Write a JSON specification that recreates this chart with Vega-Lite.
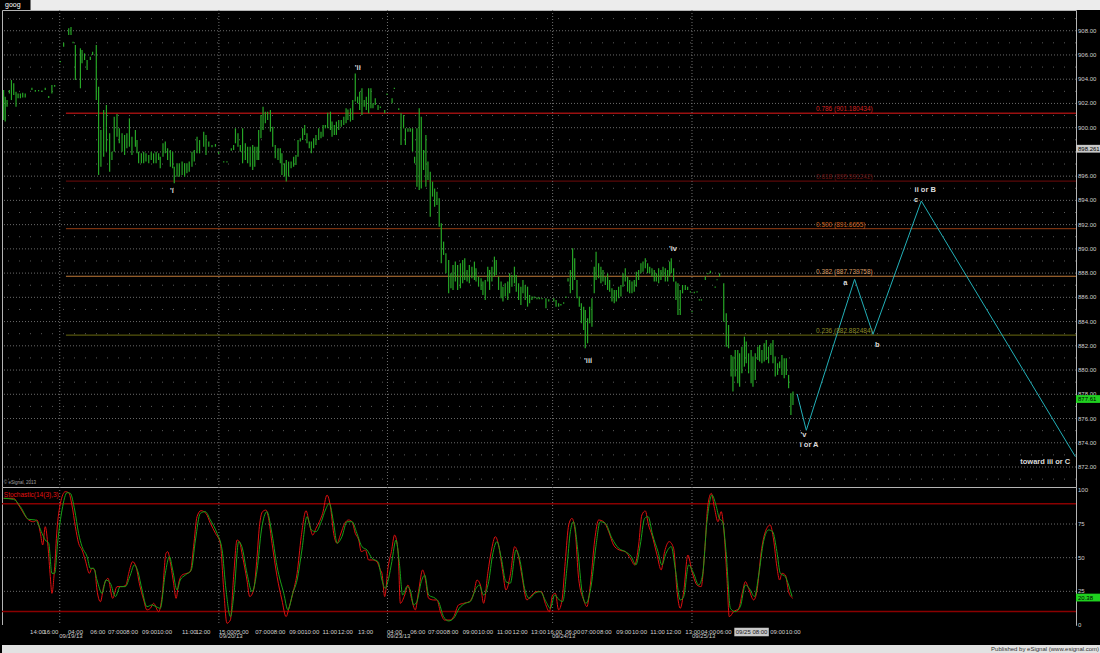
{
  "$schema": "https://vega.github.io/schema/vega-lite/v6.json",
  "background": "#000000",
  "padding": 0,
  "spacing": 0,
  "bounds": "flush",
  "config": {"view": {"stroke": null}, "text": {"font": "Liberation Sans"}, "concat": {"spacing": 0}},
  "resolve": {"scale": {"x": "independent", "y": "independent"}},
  "datasets": {
    "tab": [{"a": 0, "b": 12.4, "name": "goog"}],
    "pub": [{"t": 477, "s": "Published by eSignal (www.esignal.com)"}],
    "days": [{"t": 25.1}, {"t": 94.3}, {"t": 167.6}, {"t": 239.4}, {"t": 300.0}],
    "ygrid": [{"p":872},{"p":874},{"p":876},{"p":878},{"p":880},{"p":882},{"p":884},{"p":886},{"p":888},{"p":890},{"p":892},{"p":894},{"p":896},{"p":898},{"p":900},{"p":902},{"p":904},{"p":906},{"p":908}],
    "ylab": [{"p":872,"s":"872.00"},{"p":874,"s":"874.00"},{"p":876,"s":"876.00"},{"p":878,"s":"878.00"},{"p":880,"s":"880.00"},{"p":882,"s":"882.00"},{"p":884,"s":"884.00"},{"p":886,"s":"886.00"},{"p":888,"s":"888.00"},{"p":890,"s":"890.00"},{"p":892,"s":"892.00"},{"p":894,"s":"894.00"},{"p":896,"s":"896.00"},{"p":900,"s":"900.00"},{"p":902,"s":"902.00"},{"p":904,"s":"904.00"},{"p":906,"s":"906.00"},{"p":908,"s":"908.00"}],
    "odd": [{"p":871},{"p":873},{"p":875},{"p":877},{"p":879},{"p":881},{"p":883},{"p":885},{"p":887},{"p":889},{"p":891},{"p":893},{"p":895},{"p":897},{"p":899},{"p":901},{"p":903},{"p":905},{"p":907},{"p":909}],
    "slab": [{"v": 0, "s": "0"}, {"v": 25, "s": "25"}, {"v": 50, "s": "50"}, {"v": 75, "s": "75"}, {"v": 100, "s": "100"}],
    "sgrid": [{"v": 25}, {"v": 50}, {"v": 75}],
    "fib": [
      {"lvl": "0.786", "p": 901.180434, "label": "0.786 (901.180434)", "t0": 27.8, "t1": 466.96, "tl": 353.9},
      {"lvl": "0.618", "p": 895.591242, "label": "0.618 (895.591242)", "t0": 27.8, "t1": 466.96, "tl": 353.9},
      {"lvl": "0.500", "p": 891.6655, "label": "0.500 (891.6655)", "t0": 27.8, "t1": 466.96, "tl": 353.9},
      {"lvl": "0.382", "p": 887.739758, "label": "0.382 (887.739758)", "t0": 27.8, "t1": 466.96, "tl": 353.9},
      {"lvl": "0.236", "p": 882.882484, "label": "0.236 (882.882484)", "t0": 27.8, "t1": 466.96, "tl": 353.9}
    ],
    "proj": [
      {"t": 345.7, "p": 878.03}, {"t": 349.7, "p": 875.03}, {"t": 370.7, "p": 887.49},
      {"t": 378.7, "p": 882.95}, {"t": 399.7, "p": 893.95}, {"t": 466.7, "p": 872.85}
    ],
    "waves": [
      {"label": "'i", "t": 73.9, "p": 894.78},
      {"label": "'ii", "t": 154.7, "p": 904.95},
      {"label": "'iii", "t": 254.8, "p": 880.77},
      {"label": "'iv", "t": 291.7, "p": 889.96},
      {"label": "'v", "t": 348.5, "p": 874.68},
      {"label": "i or A", "t": 350.9, "p": 873.82},
      {"label": "a", "t": 366.7, "p": 887.16},
      {"label": "b", "t": 380.6, "p": 882.07},
      {"label": "c", "t": 397.4, "p": 894.03},
      {"label": "ii or B", "t": 401.4, "p": 894.86},
      {"label": "toward iii or C", "t": 453.6, "p": 872.44}
    ],
    "boxes": [
      {"p": 898.261, "label": "898.261", "kind": "cursor"},
      {"p": 877.61, "label": "877.61", "kind": "last"}
    ],
    "copy": [{"t": 0.8, "p": 870.68, "label": "© eSignal, 2013"}],
    "bars": [
      {"t":0.7,"l":900.63,"h":903.11},{"t":1.4,"l":900.50,"h":902.56},{"t":2.2,"l":901.73,"h":902.28},{"t":3.2,"l":902.83,"h":903.11},
      {"t":4.1,"l":902.28,"h":903.93},{"t":5.1,"l":902.70,"h":903.66},{"t":6.1,"l":901.73,"h":902.97},{"t":7.0,"l":902.42,"h":902.83},
      {"t":8.0,"l":902.42,"h":902.83},{"t":9.0,"l":902.50,"h":902.89},{"t":10.1,"l":902.50,"h":902.83},{"t":13.0,"l":903.11,"h":903.30},
      {"t":14.5,"l":902.97,"h":903.11},{"t":15.9,"l":903.0,"h":903.11},{"t":17.4,"l":902.95,"h":903.06},{"t":18.8,"l":903.11,"h":903.30},
      {"t":20.3,"l":902.45,"h":902.62},{"t":21.7,"l":902.83,"h":903.52},{"t":22.9,"l":903.38,"h":903.52},
      {"t":25.4,"l":905.4,"h":905.5},{"t":26.8,"l":906.68,"h":907.01},{"t":29.0,"l":907.65,"h":908.2},{"t":30.0,"l":907.65,"h":908.3},
      {"t":30.9,"l":906.96,"h":907.10},{"t":31.9,"l":903.93,"h":906.82},{"t":34.1,"l":903.25,"h":906.55},{"t":34.8,"l":905.31,"h":906.41},
      {"t":35.9,"l":905.58,"h":906.13},{"t":37.0,"l":904.76,"h":905.58},{"t":38.4,"l":905.58,"h":905.86},{"t":39.4,"l":906.00,"h":906.27},
      {"t":41.0,"l":902.28,"h":906.82},{"t":42.0,"l":896.10,"h":903.38},{"t":43.0,"l":896.78,"h":899.81},{"t":44.2,"l":897.61,"h":901.46},
      {"t":45.4,"l":898.02,"h":901.87},{"t":46.8,"l":896.37,"h":899.53},{"t":47.8,"l":897.33,"h":898.02},{"t":48.8,"l":898.02,"h":900.91},
      {"t":50.0,"l":899.26,"h":901.13},{"t":51.0,"l":898.71,"h":899.95},{"t":52.2,"l":898.02,"h":899.53},{"t":53.3,"l":897.75,"h":899.40},
      {"t":54.3,"l":898.30,"h":899.53},{"t":55.4,"l":898.43,"h":900.77},{"t":56.5,"l":897.75,"h":899.26},{"t":58.0,"l":898.43,"h":899.81},
      {"t":58.7,"l":897.88,"h":898.98},{"t":59.4,"l":897.06,"h":898.02},{"t":60.6,"l":897.06,"h":897.88},{"t":61.6,"l":897.06,"h":898.02},
      {"t":62.6,"l":897.20,"h":897.88},{"t":63.8,"l":897.06,"h":897.75},{"t":64.9,"l":897.33,"h":898.02},{"t":65.9,"l":897.06,"h":897.88},
      {"t":67.0,"l":897.06,"h":898.02},{"t":68.1,"l":897.33,"h":897.88},{"t":68.8,"l":896.65,"h":897.61},{"t":70.0,"l":897.61,"h":898.71},
      {"t":71.0,"l":897.88,"h":898.85},{"t":72.0,"l":897.33,"h":898.30},{"t":73.2,"l":896.78,"h":898.16},{"t":74.2,"l":896.65,"h":898.02},
      {"t":74.9,"l":895.41,"h":896.78},{"t":76.1,"l":895.96,"h":897.06},{"t":77.1,"l":895.96,"h":897.06},{"t":78.3,"l":896.10,"h":897.20},
      {"t":79.4,"l":895.96,"h":897.06},{"t":80.4,"l":896.23,"h":897.06},{"t":81.4,"l":896.37,"h":897.20},{"t":82.6,"l":896.78,"h":898.02},
      {"t":83.6,"l":897.20,"h":898.16},{"t":84.8,"l":897.88,"h":899.26},{"t":85.9,"l":897.88,"h":898.98},
      {"t":87.7,"l":898.43,"h":899.67},{"t":88.7,"l":897.75,"h":899.40},{"t":89.9,"l":898.43,"h":898.85},{"t":91.3,"l":898.38,"h":898.57},
      {"t":92.8,"l":898.43,"h":898.65},{"t":94.2,"l":897.83,"h":898.02},{"t":96.4,"l":897.12,"h":897.22},{"t":97.8,"l":897.12,"h":897.22},
      {"t":99.7,"l":898.10,"h":898.30},{"t":100.7,"l":898.16,"h":898.57},{"t":101.5,"l":898.71,"h":899.95},{"t":102.6,"l":898.43,"h":899.53},
      {"t":103.6,"l":898.02,"h":898.57},{"t":104.6,"l":897.06,"h":899.95},{"t":105.8,"l":897.33,"h":898.71},{"t":106.8,"l":897.06,"h":898.43},
      {"t":107.9,"l":896.78,"h":898.43},{"t":109.0,"l":896.51,"h":898.57},{"t":109.9,"l":896.78,"h":898.43},{"t":110.9,"l":897.33,"h":898.43},
      {"t":111.6,"l":897.33,"h":899.81},{"t":112.6,"l":899.12,"h":901.05},{"t":113.5,"l":899.81,"h":901.73},{"t":114.5,"l":900.36,"h":901.32},
      {"t":115.5,"l":900.63,"h":901.32},{"t":116.7,"l":899.67,"h":901.46},{"t":117.7,"l":898.43,"h":900.08},{"t":118.8,"l":897.47,"h":898.57},
      {"t":120.0,"l":897.33,"h":898.30},{"t":121.0,"l":897.06,"h":898.30},{"t":121.7,"l":896.10,"h":897.88},{"t":122.8,"l":895.96,"h":897.06},
      {"t":123.6,"l":895.55,"h":897.33},{"t":124.6,"l":895.96,"h":897.20},{"t":125.7,"l":896.65,"h":897.20},{"t":126.8,"l":896.78,"h":897.61},
      {"t":127.8,"l":896.92,"h":897.75},{"t":128.7,"l":897.61,"h":898.98},{"t":129.7,"l":898.85,"h":899.12},{"t":130.7,"l":898.98,"h":899.95},
      {"t":131.6,"l":899.40,"h":900.22},{"t":132.6,"l":898.71,"h":899.53},{"t":133.6,"l":898.30,"h":898.85},{"t":134.5,"l":897.88,"h":898.85},
      {"t":135.5,"l":898.30,"h":899.12},{"t":136.5,"l":898.57,"h":899.40},{"t":137.7,"l":898.98,"h":899.95},{"t":138.7,"l":899.12,"h":899.67},
      {"t":139.6,"l":899.26,"h":900.22},{"t":140.6,"l":899.95,"h":900.22},{"t":141.6,"l":899.95,"h":901.24},{"t":142.8,"l":899.81,"h":901.32},
      {"t":143.5,"l":899.26,"h":900.50},{"t":144.5,"l":899.40,"h":900.22},{"t":145.4,"l":899.40,"h":900.50},{"t":146.4,"l":899.81,"h":900.63},
      {"t":147.5,"l":900.08,"h":900.63},{"t":148.6,"l":900.22,"h":900.91},{"t":149.6,"l":900.36,"h":901.60},{"t":150.4,"l":900.63,"h":901.51},
      {"t":151.5,"l":900.50,"h":901.60},{"t":152.5,"l":900.63,"h":902.28},{"t":153.6,"l":902.15,"h":904.48},{"t":154.6,"l":902.01,"h":902.56},
      {"t":155.5,"l":901.46,"h":902.97},{"t":156.5,"l":901.05,"h":903.25},{"t":157.5,"l":901.73,"h":902.28},{"t":158.4,"l":901.46,"h":902.56},
      {"t":159.4,"l":901.19,"h":903.25},{"t":160.4,"l":901.60,"h":903.25},{"t":161.3,"l":901.60,"h":902.01},{"t":162.3,"l":901.87,"h":902.42},
      {"t":163.5,"l":901.46,"h":901.87},{"t":164.5,"l":901.62,"h":901.75},{"t":166.4,"l":901.19,"h":901.46},{"t":167.4,"l":902.70,"h":902.83},
      {"t":169.6,"l":902.01,"h":902.42},{"t":170.6,"l":903.19,"h":903.30},{"t":172.5,"l":901.46,"h":901.60},{"t":173.5,"l":898.57,"h":901.19},
      {"t":174.6,"l":899.95,"h":901.05},{"t":175.4,"l":898.57,"h":899.95},{"t":176.5,"l":899.67,"h":899.95},{"t":177.5,"l":899.67,"h":899.95},
      {"t":178.5,"l":898.02,"h":899.95},{"t":179.4,"l":897.06,"h":897.61},{"t":180.4,"l":895.13,"h":899.95},{"t":181.4,"l":894.86,"h":901.60},
      {"t":182.3,"l":894.99,"h":900.91},{"t":183.3,"l":896.51,"h":898.16},{"t":184.3,"l":895.13,"h":899.40},{"t":185.2,"l":895.68,"h":897.20},
      {"t":186.2,"l":892.66,"h":896.37},{"t":187.2,"l":894.31,"h":895.55},{"t":188.1,"l":893.48,"h":894.99},{"t":189.1,"l":893.62,"h":894.72},
      {"t":190.1,"l":891.83,"h":894.17},{"t":191.0,"l":888.81,"h":892.11},{"t":192.0,"l":889.50,"h":890.60},{"t":193.0,"l":887.98,"h":889.63},
      {"t":194.2,"l":886.33,"h":889.08},{"t":195.2,"l":886.75,"h":887.98},{"t":196.1,"l":886.61,"h":888.67},{"t":197.1,"l":887.30,"h":888.95},
      {"t":198.1,"l":886.61,"h":888.67},{"t":199.3,"l":886.75,"h":888.81},{"t":200.3,"l":887.16,"h":889.08},{"t":201.2,"l":887.43,"h":889.22},
      {"t":202.2,"l":887.30,"h":888.26},{"t":203.2,"l":887.16,"h":888.67},{"t":204.3,"l":887.57,"h":888.53},{"t":205.4,"l":887.43,"h":888.95},
      {"t":206.1,"l":887.30,"h":888.40},{"t":207.2,"l":886.88,"h":887.71},{"t":208.3,"l":886.61,"h":887.57},{"t":209.1,"l":886.20,"h":887.30},
      {"t":210.1,"l":885.78,"h":887.43},{"t":211.2,"l":887.30,"h":888.53},{"t":212.0,"l":886.61,"h":888.26},{"t":213.0,"l":887.30,"h":888.53},
      {"t":214.1,"l":887.71,"h":889.36},{"t":214.9,"l":887.85,"h":889.08},{"t":215.9,"l":886.61,"h":887.71},{"t":217.0,"l":885.92,"h":887.30},
      {"t":217.8,"l":885.65,"h":886.88},{"t":218.8,"l":886.06,"h":887.16},{"t":219.9,"l":885.78,"h":887.30},{"t":220.7,"l":886.33,"h":887.98},
      {"t":221.7,"l":886.88,"h":887.85},{"t":222.8,"l":887.16,"h":888.53},{"t":223.6,"l":886.47,"h":887.85},{"t":224.6,"l":885.78,"h":887.16},
      {"t":225.6,"l":885.37,"h":886.88},{"t":226.5,"l":886.33,"h":887.43},{"t":227.5,"l":885.78,"h":887.02},{"t":228.5,"l":885.23,"h":886.88},
      {"t":229.4,"l":885.51,"h":886.20},{"t":230.4,"l":885.78,"h":886.06},{"t":231.4,"l":885.92,"h":886.06},{"t":232.6,"l":885.84,"h":886.0},
      {"t":233.6,"l":885.84,"h":886.0},{"t":234.8,"l":885.84,"h":885.95},{"t":236.5,"l":885.10,"h":885.92},{"t":237.7,"l":885.65,"h":885.84},
      {"t":239.9,"l":885.65,"h":885.92},{"t":240.9,"l":885.23,"h":885.78},{"t":242.0,"l":885.23,"h":885.51},{"t":243.0,"l":885.33,"h":885.45},
      {"t":244.2,"l":885.48,"h":885.60},{"t":245.2,"l":885.95,"h":886.06},{"t":246.1,"l":887.30,"h":887.57},{"t":247.1,"l":886.33,"h":888.26},
      {"t":248.1,"l":886.61,"h":890.05},{"t":249.0,"l":887.43,"h":889.22},{"t":250.0,"l":885.92,"h":887.43},{"t":251.0,"l":885.23,"h":886.06},
      {"t":251.9,"l":883.86,"h":885.51},{"t":252.9,"l":883.31,"h":885.23},{"t":253.6,"l":881.80,"h":884.96},{"t":254.6,"l":882.21,"h":884.27},
      {"t":255.5,"l":883.86,"h":885.23},{"t":256.5,"l":883.58,"h":885.92},{"t":257.5,"l":886.33,"h":888.53},{"t":258.3,"l":887.43,"h":889.77},
      {"t":259.4,"l":887.57,"h":888.81},{"t":260.4,"l":887.16,"h":888.53},{"t":261.3,"l":887.30,"h":888.26},{"t":262.3,"l":887.02,"h":887.71},
      {"t":263.3,"l":886.61,"h":887.98},{"t":264.2,"l":886.47,"h":887.43},{"t":265.2,"l":885.65,"h":886.75},{"t":266.2,"l":885.51,"h":886.61},
      {"t":267.1,"l":885.65,"h":886.61},{"t":268.1,"l":885.92,"h":886.88},{"t":269.1,"l":886.06,"h":887.02},{"t":270.0,"l":886.88,"h":887.98},
      {"t":271.0,"l":887.30,"h":888.40},{"t":272.0,"l":886.47,"h":887.71},{"t":272.9,"l":886.33,"h":887.43},{"t":273.9,"l":886.33,"h":887.30},
      {"t":274.9,"l":886.47,"h":887.43},{"t":275.8,"l":886.88,"h":888.12},{"t":276.8,"l":887.43,"h":888.26},{"t":277.8,"l":887.98,"h":888.81},
      {"t":278.7,"l":888.12,"h":888.95},{"t":279.7,"l":888.40,"h":889.22},{"t":280.7,"l":887.98,"h":888.81},{"t":281.6,"l":887.98,"h":888.53},
      {"t":282.6,"l":887.71,"h":888.40},{"t":283.6,"l":887.30,"h":888.26},{"t":284.5,"l":887.30,"h":887.98},{"t":285.5,"l":887.16,"h":888.40},
      {"t":286.5,"l":887.43,"h":888.26},{"t":287.4,"l":887.71,"h":888.53},{"t":288.4,"l":887.30,"h":888.40},{"t":289.4,"l":887.30,"h":888.26},
      {"t":290.3,"l":887.71,"h":888.95},{"t":291.0,"l":887.98,"h":889.22},{"t":292.0,"l":887.30,"h":888.40},{"t":293.0,"l":885.78,"h":887.30},
      {"t":293.9,"l":884.55,"h":887.16},{"t":294.9,"l":884.55,"h":886.61},{"t":295.9,"l":886.33,"h":887.02},{"t":297.1,"l":886.61,"h":887.02},
      {"t":298.1,"l":886.61,"h":886.88},{"t":299.3,"l":886.40,"h":886.50},{"t":300.0,"l":884.77,"h":884.88},{"t":301.0,"l":886.33,"h":886.47},
      {"t":302.2,"l":886.40,"h":886.50},{"t":303.2,"l":885.73,"h":885.84},{"t":304.1,"l":885.73,"h":885.84},{"t":305.8,"l":887.43,"h":887.71},
      {"t":306.9,"l":887.90,"h":888.0},{"t":308.0,"l":887.98,"h":888.2},{"t":310.1,"l":886.80,"h":886.90},{"t":310.9,"l":887.40,"h":887.50},
      {"t":312.0,"l":887.71,"h":887.98},
      {"t":313.8,"l":883.99,"h":887.16},{"t":314.9,"l":881.93,"h":884.68},{"t":315.9,"l":881.80,"h":883.72},{"t":317.0,"l":879.46,"h":881.25},
      {"t":317.8,"l":878.22,"h":881.11},{"t":318.8,"l":879.46,"h":881.66},{"t":319.9,"l":878.91,"h":881.66},{"t":320.7,"l":878.63,"h":881.38},
      {"t":321.7,"l":879.73,"h":881.93},{"t":322.8,"l":880.28,"h":882.76},{"t":323.6,"l":880.56,"h":882.35},{"t":324.6,"l":879.73,"h":881.38},
      {"t":325.7,"l":878.91,"h":881.66},{"t":326.5,"l":878.63,"h":881.11},{"t":327.5,"l":879.18,"h":881.38},{"t":328.6,"l":880.83,"h":881.93},
      {"t":329.4,"l":880.70,"h":882.07},{"t":330.4,"l":880.56,"h":881.66},{"t":331.4,"l":880.70,"h":882.21},{"t":332.3,"l":880.83,"h":882.48},
      {"t":333.3,"l":880.56,"h":881.93},{"t":334.3,"l":881.25,"h":882.21},{"t":335.2,"l":880.56,"h":882.48},{"t":336.2,"l":879.46,"h":881.11},
      {"t":337.2,"l":879.60,"h":880.56},{"t":338.1,"l":880.15,"h":880.70},{"t":339.1,"l":879.60,"h":881.25},{"t":340.1,"l":879.32,"h":880.97},
      {"t":341.0,"l":879.60,"h":880.97},{"t":342.0,"l":878.50,"h":879.60},{"t":343.0,"l":876.29,"h":878.08},{"t":343.9,"l":877.12,"h":878.22}
    ],
    "lv": [{"v": 10}, {"v": 90}],
    "stochLabel": [{"t": 0.8, "v": 96.5, "label": "Stochastic(14(3),3)"}],
    "sbox": [{"v": 20.38, "label": "20.38"}],
    "k": [
      {"t":0.7,"v":94.1},{"t":5.1,"v":94.1},{"t":7.2,"v":89.1},{"t":11.6,"v":78.0},{"t":13.8,"v":76.7},{"t":15.2,"v":78.0},
      {"t":16.7,"v":68.1},{"t":17.7,"v":59.4},{"t":18.8,"v":73.0},{"t":20.0,"v":58.2},{"t":21.0,"v":35.9},{"t":21.7,"v":23.5},
      {"t":22.9,"v":43.3},{"t":23.9,"v":70.6},{"t":25.4,"v":90.4},{"t":27.5,"v":99.0},{"t":29.0,"v":98.3},{"t":30.4,"v":89.1},
      {"t":31.9,"v":73.0},{"t":33.3,"v":60.7},{"t":34.8,"v":55.7},{"t":36.2,"v":48.3},{"t":38.0,"v":38.4},{"t":39.1,"v":42.1},
      {"t":40.3,"v":40.9},{"t":41.3,"v":26.0},{"t":42.8,"v":17.3},{"t":44.2,"v":28.5},{"t":46.1,"v":34.7},{"t":48.1,"v":19.8},
      {"t":50.0,"v":28.5},{"t":52.2,"v":28.5},{"t":53.9,"v":29.7},{"t":55.1,"v":38.4},{"t":56.8,"v":47.0},{"t":58.3,"v":43.3},
      {"t":59.7,"v":31.0},{"t":61.6,"v":18.6},{"t":63.0,"v":11.2},{"t":64.5,"v":12.4},{"t":65.9,"v":16.1},{"t":68.1,"v":9.9},
      {"t":69.6,"v":21.1},{"t":71.3,"v":53.2},{"t":72.0,"v":54.5},{"t":73.5,"v":43.3},{"t":74.6,"v":31.0},{"t":75.7,"v":19.8},
      {"t":76.8,"v":31.0},{"t":78.3,"v":37.1},{"t":80.4,"v":38.4},{"t":81.9,"v":39.6},{"t":83.3,"v":58.2},{"t":84.8,"v":80.5},
      {"t":86.5,"v":84.9},{"t":88.7,"v":82.9},{"t":90.6,"v":75.5},{"t":92.8,"v":68.1},{"t":94.9,"v":60.7},{"t":96.4,"v":26.0},
      {"t":97.8,"v":1.3},{"t":99.3,"v":3.7},{"t":100.7,"v":35.9},{"t":102.2,"v":63.1},{"t":103.2,"v":61.9},{"t":104.6,"v":50.8},
      {"t":106.5,"v":33.4},{"t":107.7,"v":21.1},{"t":109.4,"v":26.0},{"t":110.9,"v":50.8},{"t":111.9,"v":73.0},{"t":113.3,"v":84.2},
      {"t":114.8,"v":85.4},{"t":115.9,"v":79.2},{"t":117.4,"v":60.7},{"t":119.6,"v":35.9},{"t":121.7,"v":18.6},{"t":123.5,"v":6.2},
      {"t":124.9,"v":13.6},{"t":126.8,"v":26.0},{"t":128.3,"v":38.4},{"t":130.1,"v":65.6},{"t":132.2,"v":84.9},{"t":133.6,"v":75.5},
      {"t":135.1,"v":66.8},{"t":136.5,"v":71.8},{"t":138.0,"v":76.7},{"t":139.4,"v":82.9},{"t":141.3,"v":96.5},{"t":142.8,"v":87.9},
      {"t":144.2,"v":68.1},{"t":145.7,"v":60.7},{"t":147.1,"v":66.8},{"t":149.0,"v":75.5},{"t":150.7,"v":78.0},{"t":152.2,"v":76.7},
      {"t":153.6,"v":68.1},{"t":155.1,"v":63.1},{"t":156.2,"v":54.5},{"t":158.0,"v":55.7},{"t":159.4,"v":48.3},{"t":161.2,"v":48.3},
      {"t":163.0,"v":47.0},{"t":164.5,"v":40.9},
      {"t":165.2,"v":38.4},{"t":166.4,"v":21.1},{"t":167.8,"v":42.1},{"t":169.3,"v":54.5},{"t":170.7,"v":66.8},{"t":172.2,"v":54.5},
      {"t":173.2,"v":16.1},{"t":175.1,"v":22.3},{"t":176.5,"v":29.7},{"t":178.0,"v":19.8},{"t":179.7,"v":11.2},{"t":181.1,"v":24.8},
      {"t":182.9,"v":40.9},{"t":184.0,"v":34.7},{"t":185.5,"v":19.8},{"t":187.7,"v":18.6},{"t":189.1,"v":18.6},{"t":190.6,"v":9.9},
      {"t":192.4,"v":3.7},{"t":194.9,"v":3.7},{"t":196.4,"v":6.2},{"t":198.5,"v":14.9},{"t":200.7,"v":16.1},{"t":203.2,"v":17.4},
      {"t":205.1,"v":23.5},{"t":206.5,"v":33.4},{"t":208.0,"v":29.7},{"t":209.4,"v":16.1},{"t":211.3,"v":39.6},{"t":212.7,"v":54.5},
      {"t":214.5,"v":65.6},{"t":215.9,"v":59.4},{"t":217.7,"v":39.6},{"t":219.1,"v":26.0},{"t":221.0,"v":37.1},{"t":222.9,"v":58.2},
      {"t":224.6,"v":50.8},{"t":226.1,"v":35.9},{"t":228.2,"v":18.6},{"t":230.4,"v":22.3},{"t":232.2,"v":24.8},{"t":234.5,"v":24.8},
      {"t":236.2,"v":16.1},{"t":238.0,"v":9.9},{"t":239.4,"v":22.3},{"t":240.6,"v":23.5},{"t":242.0,"v":11.2},{"t":243.5,"v":18.6},
      {"t":244.9,"v":47.1},{"t":246.4,"v":74.3},{"t":247.8,"v":79.2},{"t":249.3,"v":68.1},{"t":250.7,"v":34.7},{"t":252.9,"v":18.6},
      {"t":254.3,"v":13.6},{"t":255.8,"v":29.7},{"t":257.7,"v":63.1},{"t":259.4,"v":78.0},{"t":261.6,"v":76.7},{"t":263.8,"v":69.3},
      {"t":265.9,"v":59.4},{"t":268.4,"v":55.7},{"t":271.0,"v":54.5},{"t":273.2,"v":49.5},{"t":275.1,"v":44.6},{"t":276.8,"v":59.4},
      {"t":278.2,"v":81.7},{"t":279.7,"v":84.7},{"t":281.1,"v":74.3},{"t":282.6,"v":66.8},{"t":284.8,"v":52.0},{"t":286.6,"v":40.9},
      {"t":288.1,"v":54.5},{"t":290.1,"v":61.9},{"t":292.0,"v":57.0},{"t":293.5,"v":24.8},{"t":294.9,"v":12.4},{"t":296.4,"v":24.8},
      {"t":298.2,"v":52.0},{"t":300.0,"v":39.6},{"t":302.2,"v":29.7},{"t":304.0,"v":28.5},{"t":305.5,"v":54.5},{"t":306.9,"v":89.1},
      {"t":308.4,"v":97.8},{"t":309.8,"v":86.6},{"t":311.3,"v":76.7},{"t":312.7,"v":84.2},{"t":313.8,"v":71.8},{"t":315.2,"v":34.7},
      {"t":316.2,"v":6.2},{"t":318.1,"v":9.9},{"t":320.3,"v":12.4},{"t":322.0,"v":24.8},{"t":323.2,"v":32.2},{"t":324.6,"v":27.2},
      {"t":326.8,"v":18.6},{"t":328.2,"v":24.8},{"t":330.1,"v":54.5},{"t":331.9,"v":69.3},{"t":334.0,"v":74.3},{"t":335.5,"v":63.1},
      {"t":336.9,"v":43.3},{"t":338.1,"v":33.4},{"t":339.1,"v":38.4},{"t":340.6,"v":37.1},{"t":342.0,"v":24.8},{"t":343.8,"v":19.8}
    ],
    "d": [
      {"t":0.7,"v":94.1},{"t":5.1,"v":93.3},{"t":8.0,"v":87.9},{"t":11.6,"v":78.5},{"t":14.5,"v":78.0},{"t":17.4,"v":68.1},
      {"t":18.8,"v":63.1},{"t":20.3,"v":60.7},{"t":21.7,"v":38.4},{"t":22.9,"v":38.4},{"t":24.3,"v":63.1},{"t":26.1,"v":85.4},
      {"t":28.3,"v":98.3},{"t":29.7,"v":97.8},{"t":31.6,"v":85.4},{"t":33.3,"v":68.1},{"t":34.8,"v":58.2},{"t":37.0,"v":50.8},
      {"t":38.4,"v":42.1},{"t":39.9,"v":42.1},{"t":41.3,"v":33.4},{"t":43.5,"v":23.5},{"t":45.2,"v":33.4},{"t":47.1,"v":31.0},
      {"t":49.3,"v":21.1},{"t":51.4,"v":28.5},{"t":53.6,"v":28.5},{"t":55.8,"v":37.1},{"t":57.5,"v":44.6},{"t":59.1,"v":39.6},
      {"t":60.9,"v":26.0},{"t":63.0,"v":13.6},{"t":65.2,"v":14.9},{"t":67.0,"v":13.6},{"t":68.8,"v":12.4},{"t":71.0,"v":38.4},
      {"t":72.8,"v":50.8},{"t":74.2,"v":40.9},{"t":76.1,"v":26.0},{"t":77.5,"v":33.4},{"t":79.7,"v":37.1},{"t":82.3,"v":40.9},
      {"t":84.1,"v":63.1},{"t":86.2,"v":82.9},{"t":88.4,"v":84.2},{"t":90.6,"v":78.0},{"t":93.5,"v":68.1},{"t":95.7,"v":55.7},
      {"t":97.4,"v":26.0},{"t":99.3,"v":6.2},{"t":101.0,"v":26.0},{"t":102.9,"v":61.9},{"t":104.3,"v":58.2},{"t":106.5,"v":38.4},
      {"t":108.7,"v":24.8},{"t":110.9,"v":40.9},{"t":112.8,"v":70.6},{"t":115.2,"v":84.2},{"t":117.1,"v":70.6},{"t":119.6,"v":43.3},
      {"t":122.5,"v":23.5},{"t":124.3,"v":11.2},{"t":126.4,"v":23.5},{"t":128.3,"v":33.4},{"t":130.4,"v":55.7},{"t":132.6,"v":80.5},
      {"t":134.5,"v":70.6},{"t":136.5,"v":69.3},{"t":138.8,"v":76.7},{"t":140.6,"v":85.4},{"t":142.3,"v":90.4},{"t":144.2,"v":75.5},
      {"t":145.7,"v":60.7},{"t":147.8,"v":65.6},{"t":150.0,"v":76.7},{"t":152.2,"v":76.7},{"t":154.3,"v":68.1},{"t":156.5,"v":58.2},
      {"t":158.7,"v":55.7},{"t":160.9,"v":49.5},{"t":163.5,"v":47.0},
      {"t":165.2,"v":33.4},{"t":166.6,"v":27.2},{"t":168.1,"v":34.7},{"t":169.5,"v":47.1},{"t":171.3,"v":63.1},{"t":172.7,"v":47.1},
      {"t":174.2,"v":22.3},{"t":176.1,"v":28.5},{"t":177.5,"v":26.0},{"t":179.0,"v":14.9},{"t":180.4,"v":17.4},{"t":182.3,"v":32.2},
      {"t":183.8,"v":37.1},{"t":185.5,"v":22.3},{"t":188.4,"v":19.8},{"t":189.8,"v":17.4},{"t":192.0,"v":6.2},{"t":194.2,"v":3.0},
      {"t":196.4,"v":5.0},{"t":198.8,"v":12.4},{"t":201.4,"v":16.1},{"t":203.6,"v":17.4},{"t":206.1,"v":27.2},{"t":207.5,"v":29.7},
      {"t":209.4,"v":22.3},{"t":211.6,"v":32.2},{"t":213.3,"v":52.0},{"t":215.2,"v":61.9},{"t":217.1,"v":49.5},{"t":219.1,"v":32.2},
      {"t":221.0,"v":31.0},{"t":223.5,"v":55.7},{"t":225.3,"v":47.1},{"t":227.2,"v":27.2},{"t":229.3,"v":19.8},{"t":231.6,"v":23.5},
      {"t":234.0,"v":24.8},{"t":236.5,"v":17.4},{"t":238.4,"v":12.4},{"t":240.3,"v":22.3},{"t":242.3,"v":18.6},{"t":243.8,"v":17.4},
      {"t":245.6,"v":42.1},{"t":247.1,"v":69.3},{"t":248.5,"v":76.7},{"t":250.4,"v":54.5},{"t":252.2,"v":24.8},{"t":253.9,"v":16.1},
      {"t":256.2,"v":29.7},{"t":258.2,"v":58.2},{"t":260.1,"v":76.7},{"t":262.3,"v":75.5},{"t":265.2,"v":64.4},{"t":268.1,"v":57.0},
      {"t":271.0,"v":54.5},{"t":273.6,"v":50.8},{"t":275.6,"v":44.6},{"t":277.5,"v":59.4},{"t":279.4,"v":79.2},{"t":280.9,"v":80.5},
      {"t":282.9,"v":66.8},{"t":285.2,"v":54.5},{"t":286.9,"v":44.6},{"t":288.7,"v":53.2},{"t":291.0,"v":58.2},{"t":292.7,"v":42.1},
      {"t":294.9,"v":18.6},{"t":296.4,"v":21.1},{"t":298.5,"v":44.6},{"t":300.7,"v":38.4},{"t":302.9,"v":29.7},{"t":304.6,"v":37.1},
      {"t":306.5,"v":76.7},{"t":308.7,"v":96.5},{"t":310.4,"v":89.1},{"t":311.9,"v":79.2},{"t":313.3,"v":76.7},{"t":314.8,"v":54.5},
      {"t":316.7,"v":12.4},{"t":318.8,"v":9.9},{"t":321.0,"v":13.6},{"t":323.2,"v":29.7},{"t":324.9,"v":27.2},{"t":327.2,"v":21.1},
      {"t":329.0,"v":37.1},{"t":331.1,"v":61.9},{"t":333.3,"v":70.6},{"t":335.1,"v":69.3},{"t":336.9,"v":54.5},{"t":338.4,"v":38.4},
      {"t":340.6,"v":35.9},{"t":342.0,"v":29.7},{"t":343.5,"v":21.1}
    ],
    "xcur": [{"t": 325.9, "row": "time", "s": "09/25 08:00"}],
    "xl": [
      {"t":12.2,"row":"time","s":"14:00"},{"t":18.0,"row":"time","s":"16:00"},{"t":28.7,"row":"time","s":"04:00"},
      {"t":38.4,"row":"time","s":"06:00"},{"t":46.1,"row":"time","s":"07:00"},{"t":52.6,"row":"time","s":"08:00"},
      {"t":60.9,"row":"time","s":"09:00"},{"t":67.4,"row":"time","s":"10:00"},{"t":78.3,"row":"time","s":"11:00"},
      {"t":84.1,"row":"time","s":"12:00"},{"t":94.2,"row":"time","s":"15:00"},{"t":100.7,"row":"time","s":"05:00"},
      {"t":110.1,"row":"time","s":"07:00"},{"t":116.7,"row":"time","s":"08:00"},{"t":124.9,"row":"time","s":"09:00"},
      {"t":131.4,"row":"time","s":"10:00"},{"t":139.4,"row":"time","s":"11:00"},{"t":146.0,"row":"time","s":"12:00"},
      {"t":154.8,"row":"time","s":"13:00"},{"t":167.4,"row":"time","s":"04:00"},{"t":177.5,"row":"time","s":"06:00"},
      {"t":185.2,"row":"time","s":"07:00"},{"t":191.9,"row":"time","s":"08:00"},{"t":200.3,"row":"time","s":"09:00"},
      {"t":207.0,"row":"time","s":"10:00"},{"t":215.2,"row":"time","s":"11:00"},{"t":222.0,"row":"time","s":"12:00"},
      {"t":230.0,"row":"time","s":"13:00"},{"t":237.0,"row":"time","s":"16:00"},{"t":244.9,"row":"time","s":"06:00"},
      {"t":251.7,"row":"time","s":"07:00"},{"t":258.5,"row":"time","s":"08:00"},{"t":267.1,"row":"time","s":"09:00"},
      {"t":273.9,"row":"time","s":"10:00"},{"t":281.9,"row":"time","s":"11:00"},{"t":288.7,"row":"time","s":"12:00"},
      {"t":297.1,"row":"time","s":"13:00"},{"t":303.9,"row":"time","s":"04:00"},{"t":310.7,"row":"time","s":"06:00"},
      {"t":334.0,"row":"time","s":"09:00"},{"t":340.7,"row":"time","s":"10:00"},
      {"t":24.9,"row":"date","s":"09/19/13"},{"t":94.5,"row":"date","s":"09/20/13"},{"t":167.4,"row":"date","s":"09/23/13"},
      {"t":239.1,"row":"date","s":"09/24/13"},{"t":300.0,"row":"date","s":"09/25/13"}
    ]
  },
  "vconcat": [
    {
      "width": 1100, "height": 10,
      "view": {"fill": "#ececec", "stroke": null},
      "layer": [
        {"data": {"name": "tab"}, "mark": {"type": "rect", "color": "#000000"},
         "encoding": {"x": {"field": "a", "type": "quantitative", "scale": {"domain": [0, 478.26], "nice": false, "zero": false}, "axis": null}, "x2": {"field": "b"}}},
        {"data": {"name": "tab"}, "mark": {"type": "text", "color": "#ffffff", "align": "left", "baseline": "middle", "fontSize": 7, "dx": 3},
         "encoding": {"x": {"field": "a", "type": "quantitative", "axis": null}, "text": {"field": "name"}}}
      ]
    },
    {
      "width": 1074, "height": 477,
      "view": {"fill": "#000000", "stroke": "#b4b4b4", "strokeWidth": 1},
      "layer": [
        {"data": {"name": "ygrid"}, "mark": {"type": "rule", "color": "#6a6a6a", "strokeDash": [1, 2], "strokeWidth": 1},
         "encoding": {"y": {"field": "p", "type": "quantitative", "scale": {"domain": [870.35, 909.71], "nice": false, "zero": false}, "axis": null}}},
        {"data": {"name": "odd"}, "mark": {"type": "rule", "color": "#5a5a5a", "strokeDash": [1, 10], "strokeWidth": 1},
         "encoding": {"y": {"field": "p", "type": "quantitative", "axis": null}}},
        {"data": {"name": "fib"}, "mark": {"type": "rule"},
         "encoding": {
           "x": {"field": "t0", "type": "quantitative", "scale": {"domain": [0, 466.96], "nice": false, "zero": false}, "axis": null},
           "x2": {"field": "t1"},
           "y": {"field": "p", "type": "quantitative", "axis": null},
           "stroke": {"field": "lvl", "type": "nominal", "scale": {"domain": ["0.786","0.618","0.500","0.382","0.236"], "range": ["#9a1010","#5a0808","#7a3210","#c07a38","#6a6a10"]}, "legend": null},
           "strokeWidth": {"field": "lvl", "type": "nominal", "scale": {"domain": ["0.786","0.618","0.500","0.382","0.236"], "range": [1.5, 1, 2, 1.2, 1]}, "legend": null}
         }},
        {"data": {"name": "days"}, "mark": {"type": "rule", "color": "#707070", "strokeDash": [1, 2], "strokeWidth": 1},
         "encoding": {"x": {"field": "t", "type": "quantitative", "axis": null}}},
        {"data": {"name": "bars"}, "mark": {"type": "rule", "color": "#26a626", "strokeWidth": 1.2},
         "encoding": {"x": {"field": "t", "type": "quantitative", "axis": null}, "y": {"field": "l", "type": "quantitative", "axis": null}, "y2": {"field": "h"}}},
        {"data": {"name": "proj"}, "mark": {"type": "line", "color": "#22b0b8", "strokeWidth": 1},
         "encoding": {"x": {"field": "t", "type": "quantitative", "axis": null}, "y": {"field": "p", "type": "quantitative", "axis": null}}},
        {"data": {"name": "fib"}, "mark": {"type": "text", "align": "left", "baseline": "bottom", "dy": -1, "fontSize": 6.5},
         "encoding": {"x": {"field": "tl", "type": "quantitative", "axis": null}, "y": {"field": "p", "type": "quantitative", "axis": null},
                      "text": {"field": "label"},
                      "fill": {"field": "lvl", "type": "nominal", "scale": {"domain": ["0.786","0.618","0.500","0.382","0.236"], "range": ["#d42020","#6a1010","#d0601e","#d89a60","#8c8c28"]}, "legend": null}}},
        {"data": {"name": "waves"}, "mark": {"type": "text", "align": "center", "baseline": "middle", "fontSize": 7.5, "fontWeight": "bold", "color": "#dcdcdc"},
         "encoding": {"x": {"field": "t", "type": "quantitative", "axis": null}, "y": {"field": "p", "type": "quantitative", "axis": null}, "text": {"field": "label"}}},
        {"data": {"name": "copy"}, "mark": {"type": "text", "align": "left", "baseline": "middle", "fontSize": 4.5, "color": "#a0a0a0"},
         "encoding": {"x": {"field": "t", "type": "quantitative", "axis": null}, "y": {"field": "p", "type": "quantitative", "axis": null}, "text": {"field": "label"}}},
        {"data": {"name": "ylab"}, "mark": {"type": "text", "align": "left", "baseline": "middle", "dx": 2, "fontSize": 6, "color": "#cfcfcf"},
         "encoding": {"x": {"value": "width"}, "y": {"field": "p", "type": "quantitative", "axis": null}, "text": {"field": "s"}}},
        {"data": {"name": "boxes"}, "mark": {"type": "point", "shape": "M0,-0.3L2,-0.3L2,0.3L0,0.3Z", "size": 676, "filled": true, "opacity": 1, "strokeWidth": 0},
         "encoding": {"x": {"value": "width"}, "y": {"field": "p", "type": "quantitative", "axis": null},
                      "color": {"field": "kind", "type": "nominal", "scale": {"domain": ["cursor", "last"], "range": ["#c8c8c8", "#1fd01f"]}, "legend": null}}},
        {"data": {"name": "boxes"}, "mark": {"type": "text", "align": "left", "baseline": "middle", "dx": 2, "fontSize": 6, "color": "#000000"},
         "encoding": {"x": {"value": "width"}, "y": {"field": "p", "type": "quantitative", "axis": null}, "text": {"field": "label"}}}
      ]
    },
    {
      "width": 1074, "height": 138,
      "view": {"fill": "#000000", "stroke": "#b4b4b4", "strokeWidth": 1},
      "layer": [
        {"data": {"name": "sgrid"}, "mark": {"type": "rule", "color": "#6a6a6a", "strokeDash": [1, 2], "strokeWidth": 1},
         "encoding": {"y": {"field": "v", "type": "quantitative", "scale": {"domain": [0, 102.5], "nice": false, "zero": false}, "axis": null}}},
        {"data": {"name": "lv"}, "mark": {"type": "rule", "color": "#8a0000", "strokeWidth": 1.5},
         "encoding": {"y": {"field": "v", "type": "quantitative", "axis": null}}},
        {"data": {"name": "days"}, "mark": {"type": "rule", "color": "#707070", "strokeDash": [1, 2], "strokeWidth": 1},
         "encoding": {"x": {"field": "t", "type": "quantitative", "scale": {"domain": [0, 466.96], "nice": false, "zero": false}, "axis": null}}},
        {"data": {"name": "k"}, "mark": {"type": "line", "color": "#e01010", "strokeWidth": 1, "interpolate": "monotone"},
         "encoding": {"x": {"field": "t", "type": "quantitative", "axis": null}, "y": {"field": "v", "type": "quantitative", "axis": null}}},
        {"data": {"name": "d"}, "mark": {"type": "line", "color": "#18a018", "strokeWidth": 1, "interpolate": "monotone"},
         "encoding": {"x": {"field": "t", "type": "quantitative", "axis": null}, "y": {"field": "v", "type": "quantitative", "axis": null}}},
        {"data": {"name": "stochLabel"}, "mark": {"type": "text", "align": "left", "baseline": "middle", "fontSize": 6.5, "color": "#e01010"},
         "encoding": {"x": {"field": "t", "type": "quantitative", "axis": null}, "y": {"field": "v", "type": "quantitative", "axis": null}, "text": {"field": "label"}}},
        {"data": {"name": "slab"}, "mark": {"type": "text", "align": "left", "baseline": "middle", "dx": 2, "fontSize": 6, "color": "#cfcfcf"},
         "encoding": {"x": {"value": "width"}, "y": {"field": "v", "type": "quantitative", "axis": null}, "text": {"field": "s"}}},
        {"data": {"name": "sbox"}, "mark": {"type": "point", "shape": "M0,-0.3L2,-0.3L2,0.3L0,0.3Z", "size": 676, "filled": true, "opacity": 1, "strokeWidth": 0, "color": "#1fd01f"},
         "encoding": {"x": {"value": "width"}, "y": {"field": "v", "type": "quantitative", "axis": null}}},
        {"data": {"name": "sbox"}, "mark": {"type": "text", "align": "left", "baseline": "middle", "dx": 2, "fontSize": 6, "color": "#000000"},
         "encoding": {"x": {"value": "width"}, "y": {"field": "v", "type": "quantitative", "axis": null}, "text": {"field": "label"}}}
      ]
    },
    {
      "width": 1074, "height": 20,
      "view": {"fill": "#000000", "stroke": null},
      "layer": [
        {"data": {"name": "xcur"}, "mark": {"type": "point", "shape": "M-1,-0.25L1,-0.25L1,0.25L-1,0.25Z", "size": 1190, "filled": true, "opacity": 1, "strokeWidth": 0, "color": "#c8c8c8"},
         "encoding": {"x": {"field": "t", "type": "quantitative", "scale": {"domain": [0, 466.96], "nice": false, "zero": false}, "axis": null},
                      "y": {"field": "row", "type": "nominal", "scale": {"type": "point", "domain": ["time", "date"], "range": [5, 13]}, "axis": null}}},
        {"data": {"name": "xcur"}, "mark": {"type": "text", "align": "center", "baseline": "middle", "fontSize": 6, "color": "#202020"},
         "encoding": {"x": {"field": "t", "type": "quantitative", "axis": null}, "y": {"field": "row", "type": "nominal", "axis": null}, "text": {"field": "s"}}},
        {"data": {"name": "xl"}, "mark": {"type": "text", "align": "left", "baseline": "middle", "fontSize": 6, "color": "#d0d0d0"},
         "encoding": {"x": {"field": "t", "type": "quantitative", "axis": null}, "y": {"field": "row", "type": "nominal", "axis": null}, "text": {"field": "s"}}}
      ]
    },
    {
      "width": 1100, "height": 8,
      "view": {"fill": "#e2e2e2", "stroke": null},
      "layer": [
        {"data": {"name": "pub"}, "mark": {"type": "text", "align": "right", "baseline": "middle", "fontSize": 6, "color": "#303030"},
         "encoding": {"x": {"field": "t", "type": "quantitative", "scale": {"domain": [0, 478.26], "nice": false, "zero": false}, "axis": null}, "text": {"field": "s"}}}
      ]
    }
  ]
}
